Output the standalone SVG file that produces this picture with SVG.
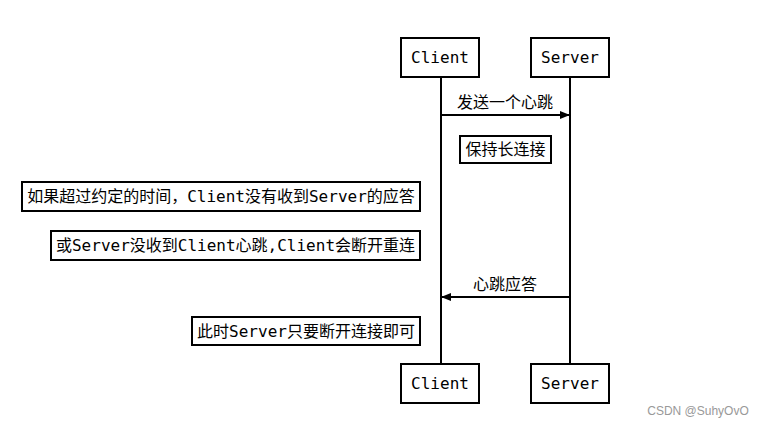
<svg xmlns="http://www.w3.org/2000/svg" width="761" height="426" viewBox="0 0 761 426">
<style>
.box{fill:#fff;stroke:#000;stroke-width:2}
.life{stroke:#000;stroke-width:2;fill:none}
.msg{stroke:#000;stroke-width:2;fill:none}
.t{font-family:"DejaVu Sans Mono","Noto Sans CJK SC",monospace;font-size:16px;fill:#000;text-anchor:middle;dominant-baseline:central}
.wm{font-family:"Liberation Sans",Arial,sans-serif;font-size:12px;fill:#999;text-anchor:middle;dominant-baseline:central}
</style>
<defs>
<marker id="ah" viewBox="0 0 10 8" refX="10" refY="4" markerWidth="10" markerHeight="8" markerUnits="userSpaceOnUse" orient="auto">
<path d="M0,0 L10,4 L0,8 Z" fill="#000"/>
</marker>
</defs>
<rect width="761" height="426" fill="#fff"/>
<g id="lifelines">
<line class="life" x1="441" y1="77" x2="441" y2="364"/>
<line class="life" x1="570" y1="77" x2="570" y2="364"/>
</g>
<g id="connectors">
<line class="msg" x1="441" y1="115" x2="570" y2="115" marker-end="url(#ah)"/>
<text class="t" x="505" y="102">发送一个心跳</text>
<line class="msg" x1="570" y1="297" x2="441" y2="297" marker-end="url(#ah)"/>
<text class="t" x="505" y="284">心跳应答</text>
</g>
<g id="client-top"><rect class="box" x="401" y="38" width="78" height="39"/><text class="t" x="440" y="57.5">Client</text></g>
<g id="server-top"><rect class="box" x="531" y="38" width="78" height="39"/><text class="t" x="570" y="57.5">Server</text></g>
<g id="note-keep"><rect class="box" x="460" y="136" width="91" height="27"/><text class="t" x="505.5" y="149.5">保持长连接</text></g>
<g id="note-timeout"><rect class="box" x="22" y="182" width="398" height="29"/><text class="t" x="221" y="196.5">如果超过约定的时间，Client没有收到Server的应答</text></g>
<g id="note-reconnect"><rect class="box" x="51" y="231" width="369" height="29"/><text class="t" x="235.5" y="245.5">或Server没收到Client心跳,Client会断开重连</text></g>
<g id="note-disconnect"><rect class="box" x="192" y="317" width="228" height="28"/><text class="t" x="306" y="331">此时Server只要断开连接即可</text></g>
<g id="client-bottom"><rect class="box" x="401" y="364" width="78" height="39"/><text class="t" x="440" y="383.5">Client</text></g>
<g id="server-bottom"><rect class="box" x="531" y="364" width="78" height="39"/><text class="t" x="570" y="383.5">Server</text></g>
<text class="wm" x="698" y="411">CSDN @SuhyOvO</text>
</svg>
